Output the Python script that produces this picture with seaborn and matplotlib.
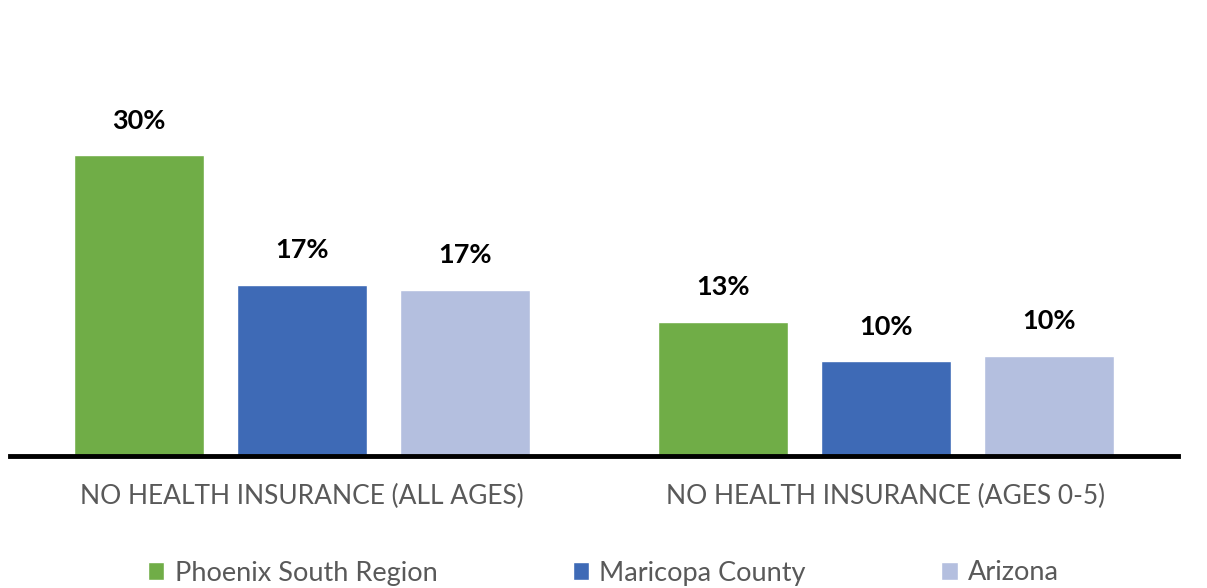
import matplotlib
matplotlib.use('Agg')
import matplotlib.pyplot as plt
import pandas as pd
import seaborn as sns

# Data
categories = ['NO HEALTH INSURANCE (ALL AGES)', 'NO HEALTH INSURANCE (AGES 0-5)']
regions = ['Phoenix South Region', 'Maricopa County', 'Arizona']
phoenix_south = [30.0, 13.4]
maricopa = [17.1, 9.5]
arizona = [16.6, 10.0]
value_labels = [['30%', '13%'], ['17%', '10%'], ['17%', '10%']]

colors = ['#70AD47', '#3E6AB6', '#B4BFDF']

rows = []
for region, vals in zip(regions, [phoenix_south, maricopa, arizona]):
    for cat, v in zip(categories, vals):
        rows.append({'category': cat, 'region': region, 'value': v})
df = pd.DataFrame(rows)

sns.set_style('white')
plt.rcParams['font.family'] = ['Lato', 'DejaVu Sans']

W, H = 1207, 588
fig = plt.figure(figsize=(W / 100, H / 100), dpi=100)
ax = fig.add_axes([10 / W, (H - 456) / H, 1168 / W, 356 / H])

sns.barplot(data=df, x='category', y='value', hue='region', hue_order=regions,
            order=categories, palette=colors, width=0.837, gap=0.2,
            saturation=1, ax=ax, legend=True)

# value labels above bars
for i, cont in enumerate(ax.containers):
    ax.bar_label(cont, labels=value_labels[i], padding=16, fontsize=19.5,
                 fontweight='bold', color='black')

ax.set_xlim(-0.5, 1.5)
ax.set_ylim(0, 35.5)
ax.set_xlabel('')
ax.set_ylabel('')
ax.set_yticks([])
ax.tick_params(axis='x', length=0, pad=20, labelsize=19, labelcolor='#595959')
for s in ['top', 'right', 'left']:
    ax.spines[s].set_visible(False)
ax.spines['bottom'].set_linewidth(3.5)
ax.spines['bottom'].set_color('black')

handles, labels = ax.get_legend_handles_labels()
ax.get_legend().remove()
leg = fig.legend(handles, labels, loc='center', bbox_to_anchor=(0.5, (H - 573) / H),
                 ncol=3, frameon=False, fontsize=19.5, handlelength=0.6, handleheight=0.6,
                 handletextpad=0.38, columnspacing=5.0, labelcolor='#595959')

fig.savefig('out.png', dpi=100)
